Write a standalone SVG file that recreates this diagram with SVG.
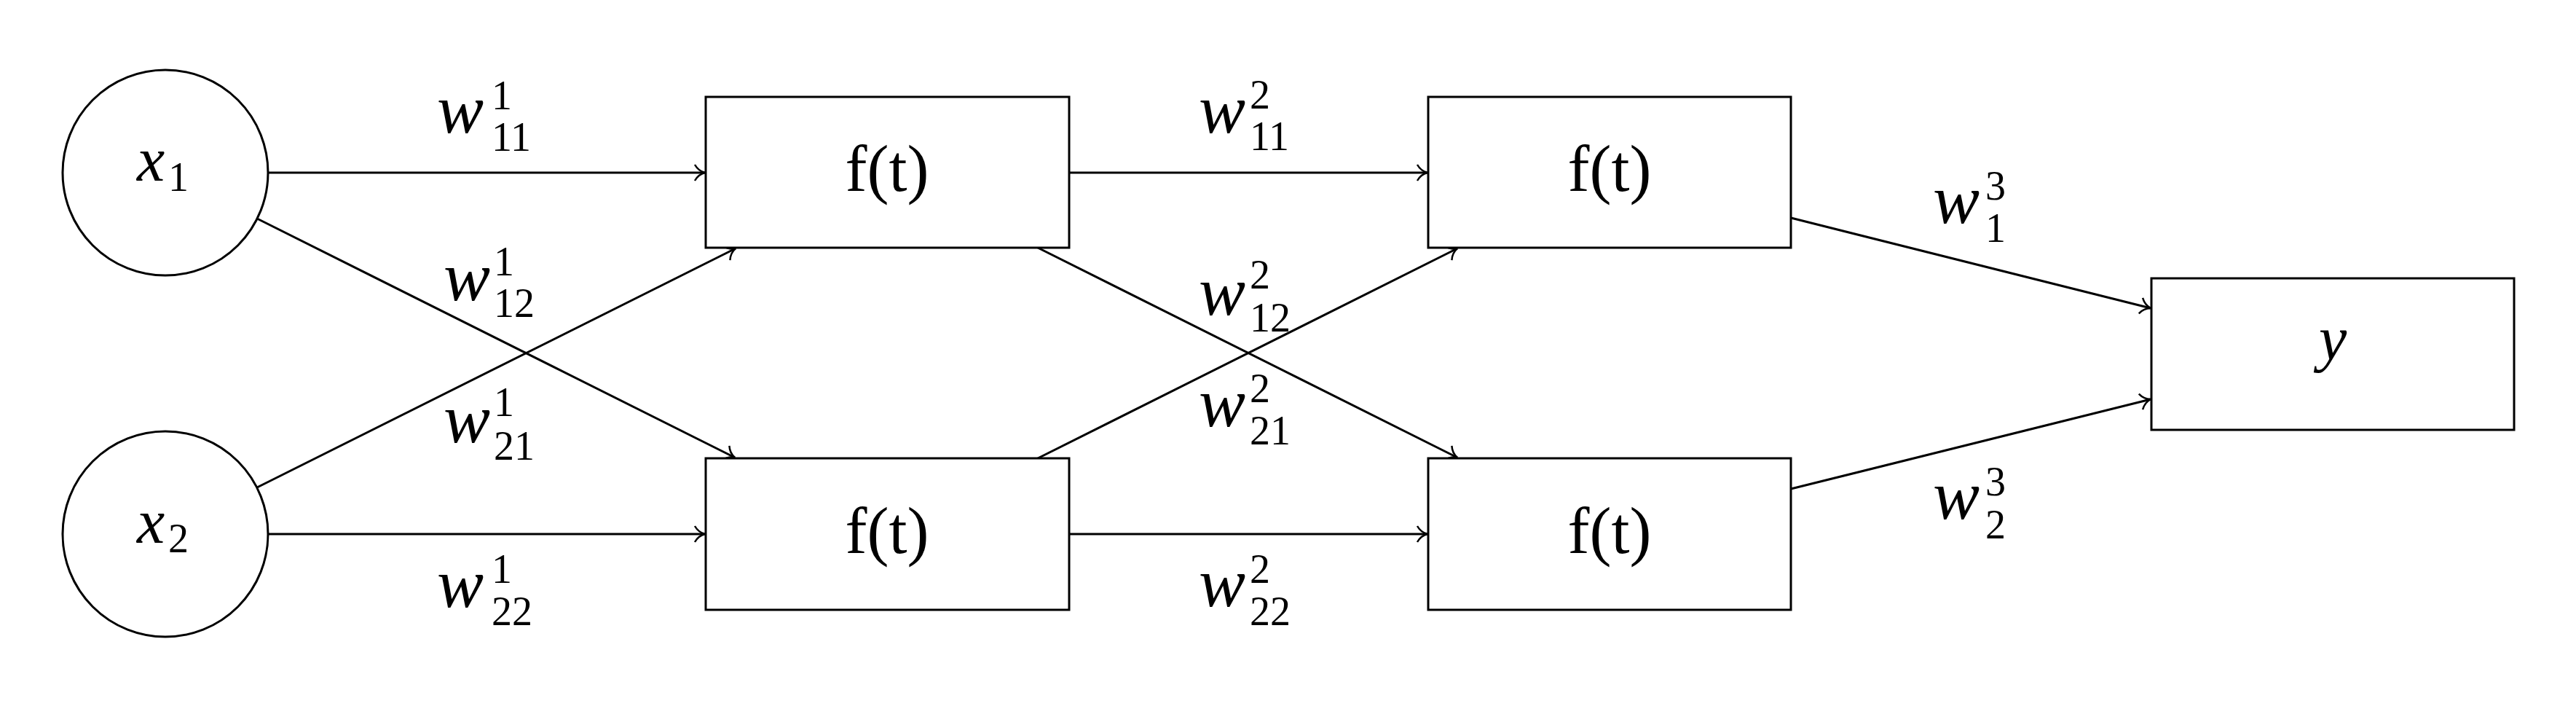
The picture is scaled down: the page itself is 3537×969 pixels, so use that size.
<svg xmlns="http://www.w3.org/2000/svg" width="3537" height="969" viewBox="0 0 3537 969">
<style>
.n{fill:#fff;stroke:#000;stroke-width:3}
.c{fill:none;stroke:#000;stroke-width:3;marker-end:url(#arr)}
.m{font-family:"Liberation Serif",serif;font-style:italic;font-size:86px;fill:#000}
.w{font-family:"Liberation Serif",serif;font-style:italic;font-size:96px;fill:#000}
.u{font-family:"Liberation Serif",serif;font-size:90px;fill:#000}
.s{font-family:"Liberation Serif",serif;font-size:56px;fill:#000}
</style>
<defs>
<marker id="arr" markerUnits="userSpaceOnUse" viewBox="-16 -14 18 28" refX="0" refY="0" markerWidth="18" markerHeight="28" orient="auto" overflow="visible">
<path d="M -14 -11 C -10 -4 -4 -1 0 0 C -4 1 -10 4 -14 11" fill="none" stroke="#000" stroke-width="2.5"/>
</marker>
</defs>
<rect width="3537" height="969" fill="#fff"/>
<g id="connectors">
<line class="c" x1="368" y1="237" x2="968" y2="237"/>
<line class="c" x1="353" y1="300" x2="1009" y2="628"/>
<line class="c" x1="353" y1="669" x2="1010" y2="341"/>
<line class="c" x1="368" y1="733" x2="968" y2="733"/>
<line class="c" x1="1468" y1="237" x2="1960" y2="237"/>
<line class="c" x1="1425" y1="340" x2="2001" y2="628"/>
<line class="c" x1="1425" y1="629" x2="2001" y2="341"/>
<line class="c" x1="1468" y1="733" x2="1960" y2="733"/>
<line class="c" x1="2459" y1="299" x2="2953" y2="423"/>
<line class="c" x1="2459" y1="671" x2="2953" y2="548"/>
</g>
<g id="labels">
<text class="w" x="600" y="182">w</text><text class="s" x="675" y="150">1</text><text class="s" x="675" y="207">11</text>
<text class="w" x="609" y="412">w</text><text class="s" x="678" y="378">1</text><text class="s" x="678" y="435">12</text>
<text class="w" x="609" y="607">w</text><text class="s" x="678" y="571">1</text><text class="s" x="678" y="631">21</text>
<text class="w" x="600" y="833">w</text><text class="s" x="675" y="800">1</text><text class="s" x="675" y="858">22</text>
<text class="w" x="1646" y="182">w</text><text class="s" x="1716" y="149">2</text><text class="s" x="1716" y="206">11</text>
<text class="w" x="1646" y="432">w</text><text class="s" x="1716" y="396">2</text><text class="s" x="1716" y="455">12</text>
<text class="w" x="1646" y="585">w</text><text class="s" x="1716" y="552">2</text><text class="s" x="1716" y="610">21</text>
<text class="w" x="1646" y="832">w</text><text class="s" x="1716" y="800">2</text><text class="s" x="1716" y="858">22</text>
<text class="w" x="2654" y="306">w</text><text class="s" x="2726" y="274">3</text><text class="s" x="2726" y="332">1</text>
<text class="w" x="2654" y="712">w</text><text class="s" x="2726" y="680">3</text><text class="s" x="2726" y="739">2</text>
</g>
<g id="x1">
<circle class="n" cx="227" cy="237" r="141"/>
<text class="m" x="188" y="248">x</text><text class="s" x="231" y="262">1</text>
</g>
<g id="x2">
<circle class="n" cx="227" cy="733" r="141"/>
<text class="m" x="188" y="745">x</text><text class="s" x="231" y="758">2</text>
</g>
<g id="h11">
<rect class="n" x="969" y="133" width="499" height="207"/>
<text class="u" x="1218" y="262" text-anchor="middle">f(t)</text>
</g>
<g id="h12">
<rect class="n" x="969" y="629" width="499" height="208"/>
<text class="u" x="1218" y="759" text-anchor="middle">f(t)</text>
</g>
<g id="h21">
<rect class="n" x="1961" y="133" width="498" height="207"/>
<text class="u" x="2210" y="262" text-anchor="middle">f(t)</text>
</g>
<g id="h22">
<rect class="n" x="1961" y="629" width="498" height="208"/>
<text class="u" x="2210" y="759" text-anchor="middle">f(t)</text>
</g>
<g id="y">
<rect class="n" x="2954" y="382" width="498" height="208"/>
<text class="m" x="3203" y="493" text-anchor="middle">y</text>
</g>
</svg>
